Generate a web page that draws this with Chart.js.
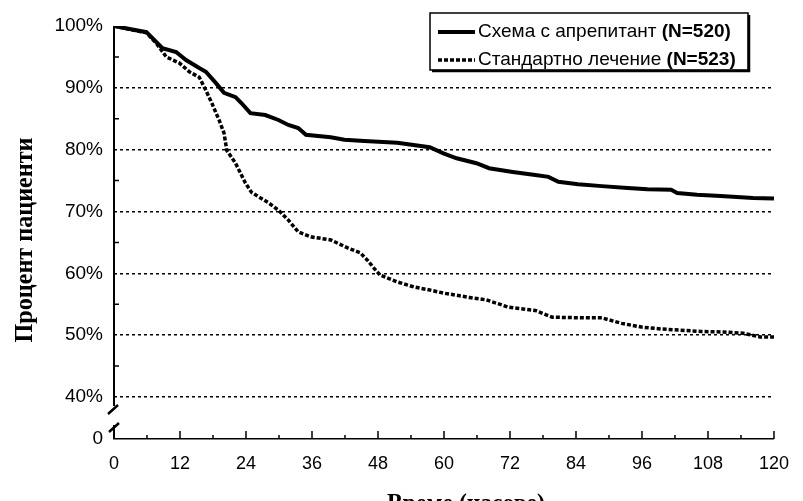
<!DOCTYPE html>
<html>
<head>
<meta charset="utf-8">
<script src="https://cdn.jsdelivr.net/npm/chart.js@4.4.1/dist/chart.umd.min.js"></script>
<style>
    html, body { margin: 0; padding: 0; background: #fff; }
    #wrap { width: 803px; height: 501px; }
</style>
</head>
<body>
<div id="wrap"><canvas id="chartCanvas" width="803" height="501"></canvas></div>
<script>
// Часове и процент пациенти (отчетени от графиката)
const hoursAprepitant = [0, 5.9, 8.8, 11.3, 13.1, 15.5, 16.7, 18.5, 20, 22.1, 23.2, 24.8, 27.5, 29.9, 31.7, 33.5, 34.9, 39.4, 41.9, 45.5, 51.5, 57.4, 59.9, 62.3, 65.9, 68.2, 72.5, 76.6, 79, 80.8, 84.4, 88.7, 93.4, 97, 101.3, 102.4, 106, 110.3, 116.2, 120]
const pctAprepitant = [100, 99, 96.4, 95.8, 94.5, 93.2, 92.6, 90.8, 89.2, 88.5, 87.5, 85.9, 85.6, 84.8, 84, 83.5, 82.4, 82, 81.6, 81.4, 81.1, 80.4, 79.4, 78.6, 77.8, 77, 76.4, 75.9, 75.6, 74.8, 74.4, 74.1, 73.8, 73.6, 73.5, 73, 72.7, 72.5, 72.2, 72.1]

const hoursStandard = [0, 5.9, 7.7, 9.5, 11.9, 13.7, 15.5, 16.7, 17.8, 19.1, 20, 20.5, 22.1, 23.9, 25, 26.8, 28.1, 29.9, 31.7, 33.5, 35.8, 39.4, 42.5, 44.8, 46.1, 47.3, 48.4, 51.5, 54.5, 57.4, 59.9, 64.6, 67.7, 71.8, 76.6, 79.7, 85.1, 88.7, 92.3, 95.9, 99.5, 103.1, 106.7, 110.8, 114.4, 117.5, 120]
const pctStandard = [100, 98.9, 97.2, 95, 94, 92.6, 91.7, 89.6, 87.5, 84.8, 82.7, 79.9, 77.8, 74.6, 73.1, 72.1, 71.4, 70.2, 68.6, 66.7, 65.9, 65.4, 64.1, 63.3, 62.1, 60.8, 59.7, 58.6, 57.8, 57.3, 56.8, 56.1, 55.7, 54.5, 54, 52.9, 52.8, 52.8, 51.9, 51.3, 51, 50.8, 50.6, 50.5, 50.3, 49.7, 49.7]

const seriesLabels = ['Схема с апрепитант (N=520)', 'Стандартно лечение (N=523)']
const xTicks = [0, 12, 24, 36, 48, 60, 72, 84, 96, 108, 120]
const yTicks = [40, 50, 60, 70, 80, 90, 100]
const yBreakValue = 33.2 // стойността, на която стои "0" след прекъсването на оста
const xTitle = 'Време (часове)'
const yTitle = 'Процент пациенти'

Chart.defaults.color = '#000'
Chart.defaults.font.family = "'Liberation Sans', Arial, sans-serif"

function toPoints(xs, ys) {
    return xs.map((x, i) => ({ x: x, y: ys[i] }))
}

// допълнителни неща: прекъсната ос, малки деления, легенда в рамка, заглавия на осите
const decorPlugin = {
    id: 'decor',
    afterDraw(chart) {
        const ctx = chart.ctx
        const xs = chart.scales.x
        const ys = chart.scales.y
        const axisX = xs.getPixelForValue(0)
        const y40 = ys.getPixelForValue(40)
        const y0 = ys.getPixelForValue(yBreakValue)
        ctx.save()
        ctx.strokeStyle = '#000'
        ctx.lineCap = 'butt'

        // вертикална ос с прекъсване
        ctx.lineWidth = 2
        ctx.beginPath()
        ctx.moveTo(axisX, ys.getPixelForValue(100))
        ctx.lineTo(axisX, y40 + 9)
        ctx.moveTo(axisX, y0 - 14)
        ctx.lineTo(axisX, y0)
        ctx.stroke()
        ctx.lineWidth = 2.5
        ctx.beginPath()
        ctx.moveTo(axisX - 6, y40 + 17)
        ctx.lineTo(axisX + 4, y40 + 8)
        ctx.moveTo(axisX - 5, y0 - 7)
        ctx.lineTo(axisX + 5, y0 - 16)
        ctx.stroke()

        // малки деления по Y
        ctx.lineWidth = 1.5
        ctx.beginPath()
        for (let v = 45; v < 100; v += 10) {
            const py = ys.getPixelForValue(v)
            ctx.moveTo(axisX, py)
            ctx.lineTo(axisX + 5, py)
        }
        // деления по X (навътре)
        for (let h = 6; h <= 120; h += 6) {
            const px = xs.getPixelForValue(h)
            const len = h % 12 === 0 ? 8 : 4
            ctx.moveTo(px, y0)
            ctx.lineTo(px, y0 - len)
        }
        ctx.stroke()

        // легенда
        const bx = 430, by = 13, bw = 318, bh = 57
        ctx.fillStyle = '#fff'
        ctx.fillRect(bx, by, bw, bh)
        ctx.lineWidth = 1.5
        ctx.strokeRect(bx, by, bw, bh)
        ctx.lineWidth = 2.5
        ctx.beginPath()
        ctx.moveTo(bx + bw + 1, by + 2)
        ctx.lineTo(bx + bw + 1, by + bh + 1)
        ctx.lineTo(bx + 2, by + bh + 1)
        ctx.stroke()
        ctx.textBaseline = 'middle'
        ctx.fillStyle = '#000'
        chart.data.datasets.forEach((ds, i) => {
            const ly = by + 19 + i * 28
            ctx.lineWidth = ds.borderWidth
            ctx.setLineDash(ds.borderDash || [])
            ctx.beginPath()
            ctx.moveTo(bx + 8, ly)
            ctx.lineTo(bx + 45, ly)
            ctx.stroke()
            ctx.setLineDash([])
            // "(N=...)" е с по-плътен шрифт
            const cut = ds.label.lastIndexOf(' (')
            const main = ds.label.slice(0, cut + 1)
            const tail = ds.label.slice(cut + 1)
            ctx.font = "19px 'Liberation Sans', Arial, sans-serif"
            ctx.fillText(main, bx + 48, ly)
            const mw = ctx.measureText(main).width
            ctx.font = "bold 19px 'Liberation Sans', Arial, sans-serif"
            ctx.fillText(tail, bx + 48 + mw, ly)
        })

        // заглавия на осите (сбит получер шрифт)
        ctx.font = "bold 26px 'Liberation Serif', 'DejaVu Serif', serif"
        ctx.textAlign = 'center'
        ctx.textBaseline = 'middle'
        let w = ctx.measureText(yTitle).width
        ctx.save()
        ctx.translate(25, 240)
        ctx.rotate(-Math.PI / 2)
        ctx.scale(205 / w, 1)
        ctx.fillText(yTitle, 0, 0)
        ctx.restore()

        w = ctx.measureText(xTitle).width
        ctx.save()
        ctx.translate(466, 504)
        ctx.scale(158 / w, 1)
        ctx.fillText(xTitle, 0, 0)
        ctx.restore()

        ctx.restore()
    }
}

const ctx = document.getElementById('chartCanvas').getContext('2d')

const chartInstance = new Chart(ctx, {
    type: 'line',
    data: {
        datasets: [{
            label: seriesLabels[0],
            data: toPoints(hoursAprepitant, pctAprepitant),
            borderColor: '#000',
            borderWidth: 4,
            pointRadius: 0,
            tension: 0,
            fill: false
        }, {
            label: seriesLabels[1],
            data: toPoints(hoursStandard, pctStandard),
            borderColor: '#000',
            borderWidth: 3.5,
            borderDash: [4, 2],
            pointRadius: 0,
            tension: 0,
            fill: false
        }]
    },
    options: {
        responsive: false,
        animation: false,
        layout: { padding: { left: 0, right: 22, top: 26, bottom: 0 } },
        plugins: {
            legend: { display: false },
            tooltip: { enabled: false }
        },
        scales: {
            x: {
                type: 'linear',
                min: 0,
                max: 120,
                afterBuildTicks: scale => { scale.ticks = xTicks.map(v => ({ value: v })) },
                afterFit: scale => { scale.height = 62 },
                ticks: {
                    autoSkip: false,
                    maxRotation: 0,
                    padding: 14,
                    font: { size: 18 }
                },
                grid: { display: false, drawTicks: false },
                border: { display: true, color: '#000', width: 1.5 }
            },
            y: {
                type: 'linear',
                min: yBreakValue,
                max: 100,
                afterBuildTicks: scale => {
                    scale.ticks = [yBreakValue, ...yTicks].map(v => ({ value: v }))
                },
                afterFit: scale => { scale.width = 114 },
                ticks: {
                    padding: 11,
                    font: { size: 19 },
                    callback: value => value < 40 ? '0' : value + '%'
                },
                grid: {
                    drawTicks: false,
                    lineWidth: 1.5,
                    color: c => (c.tick && c.tick.value >= 40 && c.tick.value <= 90) ? '#000' : 'rgba(0,0,0,0)'
                },
                border: { display: false, dash: [3, 3] }
            }
        }
    },
    plugins: [decorPlugin]
})
</script>
</body>
</html>
